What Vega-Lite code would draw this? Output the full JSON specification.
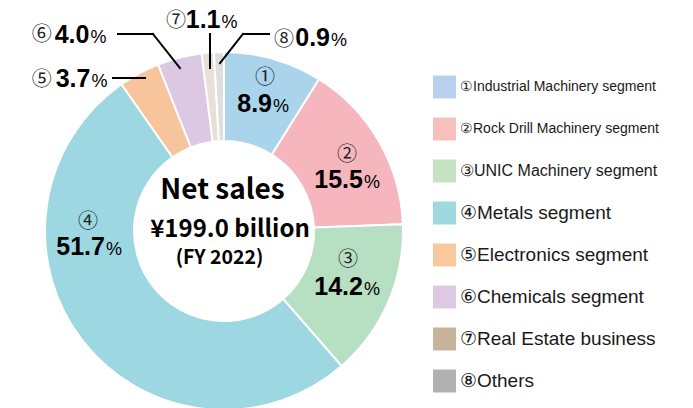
{
  "$schema": "https://vega.github.io/schema/vega-lite/v6.json",
  "padding": {"left": 5, "top": 5, "right": 5, "bottom": 0},
  "background": "white",
  "spacing": 0,
  "bounds": "flush",
  "config": {"view": {"stroke": null}},
  "resolve": {"scale": {"color": "independent"}},
  "datasets": {
    "sales": [
      {"id": 1, "num": "①", "name": "①Industrial Machinery segment", "pct": 8.9},
      {"id": 2, "num": "②", "name": "②Rock Drill Machinery segment", "pct": 15.5},
      {"id": 3, "num": "③", "name": "③UNIC Machinery segment", "pct": 14.2},
      {"id": 4, "num": "④", "name": "④Metals segment", "pct": 51.7},
      {"id": 5, "num": "⑤", "name": "⑤Electronics segment", "pct": 3.7},
      {"id": 6, "num": "⑥", "name": "⑥Chemicals segment", "pct": 4.0},
      {"id": 7, "num": "⑦", "name": "⑦Real Estate business", "pct": 1.1},
      {"id": 8, "num": "⑧", "name": "⑧Others", "pct": 0.9}
    ]
  },
  "hconcat": [
    {
      "width": 438,
      "height": 452,
      "layer": [
        {
          "data": {"name": "sales"},
          "encoding": {
            "theta": {"field": "pct", "type": "quantitative", "stack": true},
            "order": {"field": "id", "type": "quantitative"},
            "detail": {"field": "id", "type": "nominal"}
          },
          "layer": [
            {"mark": {"type": "arc", "innerRadius": 90, "outerRadius": 179, "stroke": "white", "strokeWidth": 2},
             "encoding": {"color": {"field": "id", "type": "nominal", "legend": null,
               "scale": {"domain": [1, 2, 3, 4, 5, 6, 7, 8], "range": ["#a9d4ec", "#f5b7bd", "#b7dfc1", "#9dd7e1", "#f7c49b", "#dcc8e2", "#e8dfd5", "#dedede"]}}}},

            {"mark": {"type": "text", "clip": true, "radius": 140, "dx": 2.4, "dy": -18.4, "align": "center", "baseline": "middle", "font": "Noto Sans CJK JP", "fontSize": 20, "color": "#222"},
             "encoding": {"text": {"condition": {"test": "datum.id == 1", "field": "num", "type": "nominal"}, "value": ""}}},
            {"mark": {"type": "text", "clip": true, "radius": 140, "dx": 9.4, "dy": 15.3, "align": "right", "baseline": "alphabetic", "font": "Liberation Sans", "fontWeight": "bold", "fontSize": 25, "color": "black"},
             "encoding": {"text": {"condition": {"test": "datum.id == 1", "field": "pct", "type": "quantitative", "format": ".1f"}, "value": ""}}},
            {"mark": {"type": "text", "clip": true, "radius": 140, "dx": 10.4, "dy": 15.3, "align": "left", "baseline": "alphabetic", "font": "Liberation Sans", "fontSize": 18, "color": "black"},
             "encoding": {"text": {"condition": {"test": "datum.id == 1", "value": "%"}, "value": ""}}},

            {"mark": {"type": "text", "clip": true, "radius": 140, "dx": 1.8, "dy": -5.9, "align": "center", "baseline": "middle", "font": "Noto Sans CJK JP", "fontSize": 20, "color": "#222"},
             "encoding": {"text": {"condition": {"test": "datum.id == 2", "field": "num", "type": "nominal"}, "value": ""}}},
            {"mark": {"type": "text", "clip": true, "radius": 140, "dx": 17.8, "dy": 27.1, "align": "right", "baseline": "alphabetic", "font": "Liberation Sans", "fontWeight": "bold", "fontSize": 25, "color": "black"},
             "encoding": {"text": {"condition": {"test": "datum.id == 2", "field": "pct", "type": "quantitative", "format": ".1f"}, "value": ""}}},
            {"mark": {"type": "text", "clip": true, "radius": 140, "dx": 18.8, "dy": 27.1, "align": "left", "baseline": "alphabetic", "font": "Liberation Sans", "fontSize": 18, "color": "black"},
             "encoding": {"text": {"condition": {"test": "datum.id == 2", "value": "%"}, "value": ""}}},

            {"mark": {"type": "text", "clip": true, "radius": 140, "dx": -4.5, "dy": -26.6, "align": "center", "baseline": "middle", "font": "Noto Sans CJK JP", "fontSize": 20, "color": "#222"},
             "encoding": {"text": {"condition": {"test": "datum.id == 3", "field": "num", "type": "nominal"}, "value": ""}}},
            {"mark": {"type": "text", "clip": true, "radius": 140, "dx": 10.5, "dy": 8.4, "align": "right", "baseline": "alphabetic", "font": "Liberation Sans", "fontWeight": "bold", "fontSize": 25, "color": "black"},
             "encoding": {"text": {"condition": {"test": "datum.id == 3", "field": "pct", "type": "quantitative", "format": ".1f"}, "value": ""}}},
            {"mark": {"type": "text", "clip": true, "radius": 140, "dx": 11.5, "dy": 8.4, "align": "left", "baseline": "alphabetic", "font": "Liberation Sans", "fontSize": 18, "color": "black"},
             "encoding": {"text": {"condition": {"test": "datum.id == 3", "value": "%"}, "value": ""}}},

            {"mark": {"type": "text", "clip": true, "radius": 140, "dx": -25.7, "dy": -95.2, "align": "center", "baseline": "middle", "font": "Noto Sans CJK JP", "fontSize": 20, "color": "#222"},
             "encoding": {"text": {"condition": {"test": "datum.id == 4", "field": "num", "type": "nominal"}, "value": ""}}},
            {"mark": {"type": "text", "clip": true, "radius": 140, "dx": -8.7, "dy": -62.2, "align": "right", "baseline": "alphabetic", "font": "Liberation Sans", "fontWeight": "bold", "fontSize": 25, "color": "black"},
             "encoding": {"text": {"condition": {"test": "datum.id == 4", "field": "pct", "type": "quantitative", "format": ".1f"}, "value": ""}}},
            {"mark": {"type": "text", "clip": true, "radius": 140, "dx": -7.7, "dy": -62.2, "align": "left", "baseline": "alphabetic", "font": "Liberation Sans", "fontSize": 18, "color": "black"},
             "encoding": {"text": {"condition": {"test": "datum.id == 4", "value": "%"}, "value": ""}}},

            {"mark": {"type": "text", "clip": true, "radius": 179, "dx": -97.6, "dy": 6.7, "align": "center", "baseline": "middle", "font": "Noto Sans CJK JP", "fontSize": 20, "color": "#222"},
             "encoding": {"text": {"condition": {"test": "datum.id == 5", "field": "num", "type": "nominal"}, "value": ""}}},
            {"mark": {"type": "text", "clip": true, "radius": 179, "dx": -48.8, "dy": 14, "align": "right", "baseline": "alphabetic", "font": "Liberation Sans", "fontWeight": "bold", "fontSize": 25, "color": "black"},
             "encoding": {"text": {"condition": {"test": "datum.id == 5", "field": "pct", "type": "quantitative", "format": ".1f"}, "value": ""}}},
            {"mark": {"type": "text", "clip": true, "radius": 179, "dx": -47.8, "dy": 14, "align": "left", "baseline": "alphabetic", "font": "Liberation Sans", "fontSize": 18, "color": "black"},
             "encoding": {"text": {"condition": {"test": "datum.id == 5", "value": "%"}, "value": ""}}},

            {"mark": {"type": "text", "clip": true, "radius": 179, "dx": -137.8, "dy": -22.6, "align": "center", "baseline": "middle", "font": "Noto Sans CJK JP", "fontSize": 20, "color": "#222"},
             "encoding": {"text": {"condition": {"test": "datum.id == 6", "field": "num", "type": "nominal"}, "value": ""}}},
            {"mark": {"type": "text", "clip": true, "radius": 179, "dx": -90, "dy": -14.3, "align": "right", "baseline": "alphabetic", "font": "Liberation Sans", "fontWeight": "bold", "fontSize": 25, "color": "black"},
             "encoding": {"text": {"condition": {"test": "datum.id == 6", "field": "pct", "type": "quantitative", "format": ".1f"}, "value": ""}}},
            {"mark": {"type": "text", "clip": true, "radius": 179, "dx": -89, "dy": -14.3, "align": "left", "baseline": "alphabetic", "font": "Liberation Sans", "fontSize": 18, "color": "black"},
             "encoding": {"text": {"condition": {"test": "datum.id == 6", "value": "%"}, "value": ""}}},

            {"mark": {"type": "text", "clip": true, "radius": 179, "dx": -31.7, "dy": -32, "align": "center", "baseline": "middle", "font": "Noto Sans CJK JP", "fontSize": 20, "color": "#222"},
             "encoding": {"text": {"condition": {"test": "datum.id == 7", "field": "num", "type": "nominal"}, "value": ""}}},
            {"mark": {"type": "text", "clip": true, "radius": 179, "dx": 12.8, "dy": -24.4, "align": "right", "baseline": "alphabetic", "font": "Liberation Sans", "fontWeight": "bold", "fontSize": 25, "color": "black"},
             "encoding": {"text": {"condition": {"test": "datum.id == 7", "field": "pct", "type": "quantitative", "format": ".1f"}, "value": ""}}},
            {"mark": {"type": "text", "clip": true, "radius": 179, "dx": 13.8, "dy": -24.4, "align": "left", "baseline": "alphabetic", "font": "Liberation Sans", "fontSize": 18, "color": "black"},
             "encoding": {"text": {"condition": {"test": "datum.id == 7", "value": "%"}, "value": ""}}},

            {"mark": {"type": "text", "clip": true, "radius": 179, "dx": 65.1, "dy": -12.1, "align": "center", "baseline": "middle", "font": "Noto Sans CJK JP", "fontSize": 20, "color": "#222"},
             "encoding": {"text": {"condition": {"test": "datum.id == 8", "field": "num", "type": "nominal"}, "value": ""}}},
            {"mark": {"type": "text", "clip": true, "radius": 179, "dx": 111.1, "dy": -6.4, "align": "right", "baseline": "alphabetic", "font": "Liberation Sans", "fontWeight": "bold", "fontSize": 25, "color": "black"},
             "encoding": {"text": {"condition": {"test": "datum.id == 8", "field": "pct", "type": "quantitative", "format": ".1f"}, "value": ""}}},
            {"mark": {"type": "text", "clip": true, "radius": 179, "dx": 112.1, "dy": -6.4, "align": "left", "baseline": "alphabetic", "font": "Liberation Sans", "fontSize": 18, "color": "black"},
             "encoding": {"text": {"condition": {"test": "datum.id == 8", "value": "%"}, "value": ""}}}
          ]
        },
        {
          "data": {"values": [{}]},
          "layer": [
            {"mark": {"type": "text", "dx": -1.5, "dy": -32, "align": "center", "baseline": "alphabetic", "font": "Noto Sans CJK JP", "fontWeight": "bold", "fontSize": 28, "color": "black"},
             "encoding": {"text": {"value": "Net sales"}}},
            {"mark": {"type": "text", "dx": 6, "dy": 5.5, "align": "center", "baseline": "alphabetic", "font": "Noto Sans CJK JP", "fontWeight": "bold", "fontSize": 24, "color": "black"},
             "encoding": {"text": {"value": "¥199.0 billion"}}},
            {"mark": {"type": "text", "dx": -4.5, "dy": 33, "align": "center", "baseline": "alphabetic", "font": "Noto Sans CJK JP", "fontWeight": "bold", "fontSize": 19.5, "color": "black"},
             "encoding": {"text": {"value": "(FY 2022)"}}},

            {"mark": {"type": "rule", "color": "black", "strokeWidth": 2, "strokeCap": "square"},
             "encoding": {"x": {"datum": -111, "type": "quantitative", "scale": {"domain": [-219, 219], "nice": false, "zero": false}, "axis": null},
                          "y": {"datum": 153, "type": "quantitative", "scale": {"domain": [-226, 226], "nice": false, "zero": false}, "axis": null},
                          "x2": {"datum": -79}, "y2": {"datum": 153}}},
            {"mark": {"type": "rule", "color": "black", "strokeWidth": 2, "strokeCap": "square"},
             "encoding": {"x": {"datum": -106, "type": "quantitative", "scale": {"domain": [-219, 219], "nice": false, "zero": false}, "axis": null},
                          "y": {"datum": 197, "type": "quantitative", "scale": {"domain": [-226, 226], "nice": false, "zero": false}, "axis": null},
                          "x2": {"datum": -71}, "y2": {"datum": 197}}},
            {"mark": {"type": "rule", "color": "black", "strokeWidth": 2, "strokeCap": "square"},
             "encoding": {"x": {"datum": -71, "type": "quantitative", "scale": {"domain": [-219, 219], "nice": false, "zero": false}, "axis": null},
                          "y": {"datum": 197, "type": "quantitative", "scale": {"domain": [-226, 226], "nice": false, "zero": false}, "axis": null},
                          "x2": {"datum": -44}, "y2": {"datum": 163}}},
            {"mark": {"type": "rule", "color": "black", "strokeWidth": 2, "strokeCap": "square"},
             "encoding": {"x": {"datum": -14, "type": "quantitative", "scale": {"domain": [-219, 219], "nice": false, "zero": false}, "axis": null},
                          "y": {"datum": 197, "type": "quantitative", "scale": {"domain": [-226, 226], "nice": false, "zero": false}, "axis": null},
                          "x2": {"datum": -14}, "y2": {"datum": 163}}},
            {"mark": {"type": "rule", "color": "black", "strokeWidth": 2, "strokeCap": "square"},
             "encoding": {"x": {"datum": 19, "type": "quantitative", "scale": {"domain": [-219, 219], "nice": false, "zero": false}, "axis": null},
                          "y": {"datum": 197, "type": "quantitative", "scale": {"domain": [-226, 226], "nice": false, "zero": false}, "axis": null},
                          "x2": {"datum": 45}, "y2": {"datum": 197}}},
            {"mark": {"type": "rule", "color": "black", "strokeWidth": 2, "strokeCap": "square"},
             "encoding": {"x": {"datum": 19, "type": "quantitative", "scale": {"domain": [-219, 219], "nice": false, "zero": false}, "axis": null},
                          "y": {"datum": 197, "type": "quantitative", "scale": {"domain": [-226, 226], "nice": false, "zero": false}, "axis": null},
                          "x2": {"datum": -4}, "y2": {"datum": 168}}}
          ]
        }
      ]
    },
    {
      "width": 3,
      "height": 452,
      "data": {"name": "sales"},
      "encoding": {
        "y": {"field": "id", "type": "ordinal", "axis": null, "scale": {"type": "point", "padding": 0, "range": [82, 376]}}
      },
      "layer": [
        {"mark": {"type": "square", "size": 529, "opacity": 1, "strokeWidth": 0},
         "encoding": {"color": {"field": "id", "type": "nominal", "legend": null,
           "scale": {"domain": [1, 2, 3, 4, 5, 6, 7, 8], "range": ["#b9d0ee", "#f6c0bd", "#c6e3c1", "#a0d8e0", "#f8c99e", "#dec9e4", "#c7b39a", "#b0b0b0"]}}}},
        {"transform": [{"filter": "datum.id <= 2"}],
         "mark": {"type": "text", "align": "left", "baseline": "middle", "dx": 15.5, "font": "Liberation Sans", "fontSize": 14, "color": "#1a1a1a"},
         "encoding": {"text": {"field": "name", "type": "nominal"}}},
        {"transform": [{"filter": "datum.id == 3"}],
         "mark": {"type": "text", "align": "left", "baseline": "middle", "dx": 15.5, "font": "Liberation Sans", "fontSize": 16, "color": "#1a1a1a"},
         "encoding": {"text": {"field": "name", "type": "nominal"}}},
        {"transform": [{"filter": "datum.id > 3"}],
         "mark": {"type": "text", "align": "left", "baseline": "middle", "dx": 15.5, "font": "Liberation Sans", "fontSize": 19, "color": "#1a1a1a"},
         "encoding": {"text": {"field": "name", "type": "nominal"}}}
      ]
    }
  ]
}
